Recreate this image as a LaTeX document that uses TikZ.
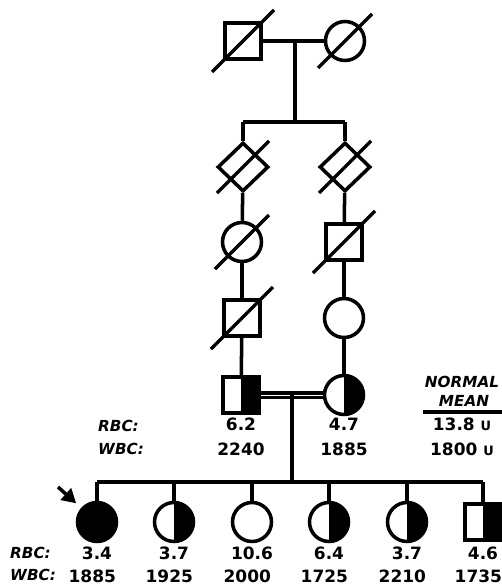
\documentclass[tikz,border=0pt]{standalone}
\usepackage{fontspec}
\setmainfont{DejaVu Sans}
\usetikzlibrary{shapes.geometric,arrows.meta}

\tikzset{
    male/.style={draw, rectangle, minimum size=1.08cm, inner sep=0pt, line width=3pt},
    female/.style={draw, circle, minimum size=1.17cm, inner sep=0pt, line width=3pt},
    unknown/.style={draw, diamond, minimum width=1.53cm, minimum height=1.47cm, inner sep=0pt, line width=3pt},
    halfright/.style={path picture={\fill[black] (path picture bounding box.south) rectangle (path picture bounding box.north east);}},
    affected/.style={fill=black},
    line/.style={line width=3pt},
    val/.style={inner sep=0pt, font=\fontsize{14.5}{17}\selectfont\bfseries},
    lbl/.style={inner sep=0pt, font=\fontsize{13}{15}\selectfont\bfseries\itshape}
}

\begin{document}
\begin{tikzpicture}[x=0.03cm, y=-0.03cm]
    \useasboundingbox (0,0) rectangle (502,585);

    % Generation I
    \node[male] (gf) at (243,41) {};
    \node[female] (gm) at (345,41) {};
    \coordinate (m1) at (295,41);
    \coordinate (s1) at (295,122);

    % Generation II
    \node[unknown] (da) at (243,167) {};
    \node[unknown] (db) at (345,167) {};

    % Generation III and IV
    \node[female] (ca) at (242,242) {};
    \node[male] (sb) at (344,242) {};
    \node[male] (sa) at (242,318) {};
    \node[female] (cb) at (344,318) {};

    % Parents
    \node[male, halfright] (fa) at (241,395) {};
    \node[female, halfright] (mo) at (344,395) {};
    \coordinate (m2) at (292,395);
    \coordinate (s2) at (292,482);

    % Sibship
    \node[female, affected] (p1) at (97,522) {};
    \node[female, halfright] (p2) at (174,522) {};
    \node[female] (p3) at (252,522) {};
    \node[female, halfright] (p4) at (329,522) {};
    \node[female, halfright] (p5) at (407,522) {};
    \node[male, halfright] (p6) at (483,522) {};

    % Lines of descent
    \draw[line] (gf) -- (gm);
    \draw[line] (m1) -- (s1);
    \draw[line] (da.north |- s1) -- (db.north |- s1);
    \draw[line] (da.north |- s1) -- (da.north);
    \draw[line] (db.north |- s1) -- (db.north);
    \draw[line] (da) -- (ca);
    \draw[line] (ca) -- (sa);
    \draw[line] (sa) -- (fa);
    \draw[line] (db) -- (sb);
    \draw[line] (sb) -- (cb);
    \draw[line] (cb) -- (mo);
    \draw[line width=3.2pt, double=white, double distance=0.6pt] (fa) -- (mo);
    \draw[line] (m2) -- (s2);
    \draw[line] (p1.north |- s2) -- (p6.north |- s2);
    \foreach \p in {p1,p2,p3,p4,p5,p6}
        \draw[line] (\p.north |- s2) -- (\p.north);

    % Deceased
    \foreach \n/\r in {gf/31, gm/27, da/26, db/26, ca/27, sb/31, sa/31}
        \draw[line] ([shift={(-\r,\r)}]\n.center) -- ([shift={(\r,-\r)}]\n.center);

    % Proband
    \coordinate (arr) at (58,487);
    \draw[line width=3pt, -{Triangle[length=12pt, width=13pt]}, shorten >=0.2cm] (arr) -- (p1);

    % Values, parents
    \node[lbl, anchor=west] (rbc1) at (98,426) {RBC:};
    \node[lbl, anchor=west] (wbc1) at (98,449) {WBC:};
    \node[val] (rfa) at (241,424) {6.2};
    \node[val] (wfa) at (241,449) {2240};
    \node[val] (rmo) at (344,424) {4.7};
    \node[val] (wmo) at (344,449) {1885};

    % Normal mean
    \node[lbl] (norm) at (462,382) {NORMAL};
    \node[lbl] (mean) at (464,401) {MEAN};
    \coordinate (ul) at (423,412);
    \draw[line width=2.8pt] (ul) -- ++(80,0);
    \node[val] (rnm) at (462,424) {13.8 {\fontsize{11}{12}\selectfont U}};
    \node[val] (wnm) at (462,449) {1800 {\fontsize{11}{12}\selectfont U}};

    % Values, sibship
    \node[lbl, anchor=west] (rbc2) at (10,553) {RBC:};
    \node[lbl, anchor=west] (wbc2) at (10,575) {WBC:};
    \foreach \p/\r/\w in {p1/3.4/1885, p2/3.7/1925, p3/10.6/2000, p4/6.4/1725, p5/3.7/2210, p6/4.6/1735} {
        \node[val] (r\p) at (\p |- 0,553) {\r};
        \node[val] (w\p) at ([xshift=-4]\p |- 0,576) {\w};
    }
\end{tikzpicture}
\end{document}
